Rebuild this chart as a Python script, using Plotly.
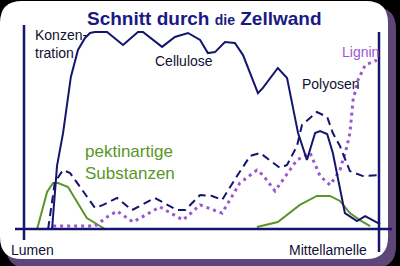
import plotly.graph_objects as go

# ---- data (position across wall 0..100 = Lumen..Mittellamelle, concentration 0..100) ----
cell_x = [7.9, 9.3, 11.0, 13.2, 15.2, 17.2, 18.6, 20.0, 23.4, 27.9, 32.1, 33.5, 38.9, 42.5, 46.2,
          49.6, 51.8, 53.8, 56.6, 59.4, 61.7, 65.9, 67.3, 71.5, 74.1, 77.2, 79.7, 82.0, 83.4, 85.4,
          87.0, 90.4, 93.8, 96.1, 100.3]
cell_y = [0, 31.7, 48.2, 76.4, 90.0, 96.0, 98.5, 99.0, 99.0, 92.5, 99.0, 99.0, 91.5, 96.5, 98.5,
          95.0, 88.4, 88.9, 94.0, 93.5, 87.4, 68.3, 70.9, 80.9, 75.9, 48.2, 34.7, 48.2, 49.2, 47.7,
          38.2, 8.0, 4.0, 6.5, 2.5]

poly_x = [6.8, 8.7, 11.0, 13.0, 20.0, 22.3, 26.2, 30.4, 36.9, 43.1, 45.4, 49.6, 53.0, 55.8, 60.0,
          63.7, 66.5, 72.1, 74.1, 76.9, 78.3, 82.5, 85.4, 87.0, 89.0, 91.8, 95.5, 100.3]
poly_y = [0, 23.6, 29.6, 28.1, 10.6, 12.1, 15.6, 9.5, 15.6, 9.5, 9.5, 17.1, 16.6, 14.6, 26.6,
          36.7, 38.2, 30.7, 32.2, 41.7, 52.3, 58.8, 56.3, 48.2, 41.7, 29.1, 26.6, 27.1]

lig_x = [8.2, 20.0, 23.4, 26.2, 30.7, 38.3, 44.8, 49.6, 55.8, 60.8, 65.6, 67.3, 70.7, 76.9, 80.6,
         83.4, 86.2, 89.0, 91.0, 91.8, 92.7, 94.1, 96.1, 99.4]
lig_y = [1.5, 1.5, 6.0, 9.0, 3.5, 11.1, 4.5, 12.1, 8.0, 23.1, 29.6, 27.1, 19.1, 34.7, 38.2,
         26.6, 22.1, 29.6, 41.7, 48.2, 64.8, 74.9, 82.4, 84.9]

pekt_x = [3.7, 6.5, 8.2, 9.6, 12.4, 17.7, 22.8, None,
          65.6, 71.5, 77.7, 82.5, 86.2, 89.0, 91.8, 94.6, 97.5]
pekt_y = [0, 18.6, 23.1, 23.1, 21.1, 5.5, 0, None,
          1.0, 3.5, 12.1, 16.6, 16.6, 14.1, 8.0, 4.5, 1.5]

W, H = 400, 266
NAVY = "#15156e"
GREEN = "#5a9628"
PURPLE = "#9a58d0"
TXT = "#111133"

# pixel -> data mapping for the axes (left axis at px 24, right at 379; baseline py 229, top py 30)
sx = 355 / 100.0
sy = 199 / 100.0
x_range = [-24 / sx, (W - 24) / sx]
y_range = [(229 - H) / sy, 229 / sy]

fig = go.Figure()
fig.add_trace(go.Scatter(x=pekt_x, y=pekt_y, mode="lines", line=dict(color=GREEN, width=2),
                         connectgaps=False, hoverinfo="skip"))
fig.add_trace(go.Scatter(x=lig_x, y=lig_y, mode="lines", line=dict(color=PURPLE, width=3, dash="3px,4px"),
                         hoverinfo="skip"))
fig.add_trace(go.Scatter(x=poly_x, y=poly_y, mode="lines", line=dict(color=NAVY, width=2, dash="8px,5px"),
                         hoverinfo="skip"))
fig.add_trace(go.Scatter(x=cell_x, y=cell_y, mode="lines", line=dict(color=NAVY, width=2),
                         hoverinfo="skip"))


def px(x):
    return x / W


def py(y):
    return 1 - y / H


def rrect(x0, y0, x1, y1, r):
    return (f"M {px(x0 + r)},{py(y0)} L {px(x1 - r)},{py(y0)} Q {px(x1)},{py(y0)} {px(x1)},{py(y0 + r)} "
            f"L {px(x1)},{py(y1 - r)} Q {px(x1)},{py(y1)} {px(x1 - r)},{py(y1)} "
            f"L {px(x0 + r)},{py(y1)} Q {px(x0)},{py(y1)} {px(x0)},{py(y1 - r)} "
            f"L {px(x0)},{py(y0 + r)} Q {px(x0)},{py(y0)} {px(x0 + r)},{py(y0)} Z")


shapes = [
    dict(type="path", xref="paper", yref="paper", path=rrect(6, 7, 396, 268, 22),
         fillcolor="#5e4678", line=dict(width=0), layer="below"),
    dict(type="path", xref="paper", yref="paper", path=rrect(0, 1, 388, 259, 22),
         fillcolor="white", line=dict(width=0), layer="below"),
    # axes
    dict(type="line", xref="x", yref="y", x0=(15 - 24) / sx, x1=(392 - 24) / sx, y0=0, y1=0,
         line=dict(color=NAVY, width=2.5)),
    dict(type="line", xref="x", yref="y", x0=0, x1=0, y0=(229 - 25) / sy, y1=(229 - 240) / sy,
         line=dict(color=NAVY, width=2.5)),
    dict(type="line", xref="x", yref="y", x0=100, x1=100, y0=(229 - 32) / sy, y1=(229 - 252) / sy,
         line=dict(color=NAVY, width=2.5)),
]

FONT = "Liberation Sans, Arial, sans-serif"


def label(text, x, y, color, size, xanchor="left"):
    return dict(text=text, x=px(x), y=py(y), xref="paper", yref="paper", showarrow=False,
                xanchor=xanchor, yanchor="middle", align="left",
                font=dict(family=FONT, size=size, color=color))


annotations = [
    label("<b>Schnitt durch <span style='font-size:14px'>die</span> Zellwand</b>", 205, 18, "#1a1a84", 19,
          "center"),
    label("Konzen-", 33, 35, TXT, 14),
    label("tration", 33, 53, TXT, 14),
    label("Cellulose", 153, 61, TXT, 14),
    label("Polyosen", 300, 84, TXT, 14),
    label("Lignin", 340, 52, PURPLE, 14),
    label("pektinartige", 83, 151, GREEN, 17),
    label("Substanzen", 83, 173, GREEN, 17),
    label("Lumen", 9, 250, TXT, 14),
    label("Mittellamelle", 287, 250, TXT, 14),
]

fig.update_layout(
    width=W, height=H, margin=dict(l=0, r=0, t=0, b=0),
    paper_bgcolor="black", plot_bgcolor="rgba(0,0,0,0)",
    showlegend=False,
    xaxis=dict(range=x_range, visible=False, fixedrange=True),
    yaxis=dict(range=y_range, visible=False, fixedrange=True),
    shapes=shapes, annotations=annotations,
)

fig.write_html("out.html")
